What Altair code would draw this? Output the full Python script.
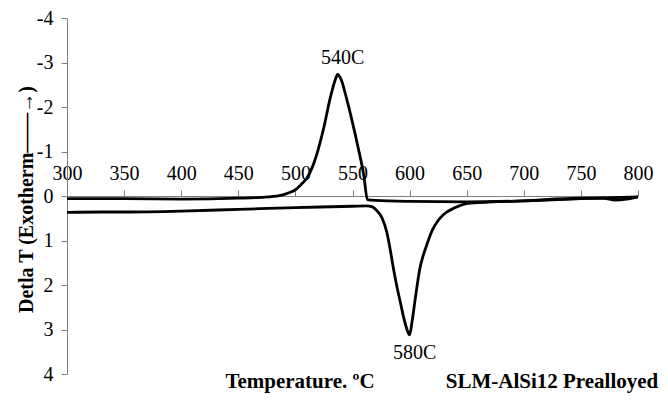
import altair as alt
import pandas as pd

# Series A: heating curve with exothermic peak (~540C)
temps_a = [300, 350, 400, 450, 470, 486, 495, 500, 505, 510, 515, 520, 525, 530, 535, 537,
           540, 545, 550, 555, 560, 563, 570, 600, 650, 700, 750, 800]
vals_a = [0.06, 0.06, 0.07, 0.05, 0.03, -0.01, -0.08, -0.14, -0.26, -0.40, -0.66, -1.05, -1.55,
          -2.15, -2.62, -2.73, -2.62, -2.17, -1.65, -1.08, -0.45, 0.08, 0.10, 0.12, 0.13,
          0.11, 0.06, 0.02]

# Series B: curve with endothermic valley (~580C)
temps_b = [300, 330, 350, 400, 450, 500, 550, 562, 567, 571, 576, 580, 583, 586, 589, 592, 595,
           598, 600, 602, 605, 609, 612, 615, 620, 625, 630, 640, 650, 660, 700, 750, 770,
           780, 790, 800]
vals_b = [0.37, 0.36, 0.36, 0.34, 0.30, 0.26, 0.23, 0.22, 0.24, 0.32, 0.50, 0.81, 1.20, 1.65,
          2.05, 2.40, 2.75, 3.02, 3.12, 2.85, 2.30, 1.63, 1.33, 1.10, 0.76, 0.55, 0.41, 0.26,
          0.17, 0.15, 0.11, 0.05, 0.05, 0.09, 0.07, 0.02]

x_ticks = [300, 350, 400, 450, 500, 550, 600, 650, 700, 750, 800]
y_ticks = [-4, -3, -2, -1, 0, 1, 2, 3, 4]

peak_labels = ["540C", "580C"]
peak_x = [541.5, 604.5]
peak_y = [-3.1, 3.52]

FONT = "Liberation Serif"

df = pd.concat([
    pd.DataFrame({"T": temps_a, "dT": vals_a, "series": "A"}),
    pd.DataFrame({"T": temps_b, "dT": vals_b, "series": "B"}),
])
ann = pd.DataFrame({"label": peak_labels, "T": peak_x, "dT": peak_y})

x_scale = alt.Scale(domain=[300, 800], nice=False, zero=False)
y_scale = alt.Scale(domain=[-4, 4], reverse=True, nice=False, zero=False)

lines = alt.Chart(df).mark_line(strokeWidth=2.8, interpolate="monotone", color="black").encode(
    x=alt.X("T:Q", scale=x_scale,
            axis=alt.Axis(orient="top", offset=-178, values=x_ticks, grid=False, title=None,
                          labelFont=FONT, labelFontSize=20, labelColor="black",
                          labelPadding=7, tickSize=6, tickColor="#7f7f7f",
                          domainColor="#7f7f7f", labelFlush=False, labelOverlap=False)),
    y=alt.Y("dT:Q", scale=y_scale,
            axis=alt.Axis(values=y_ticks, grid=False, labelExpr="'' + datum.value",
                          labelFont=FONT, labelFontSize=20, labelColor="black",
                          labelPadding=8, tickSize=6, tickColor="#7f7f7f",
                          domainColor="#7f7f7f", labelFlush=False,
                          title="Detla T (Exotherm——→)", titleFont=FONT, titleFontSize=20,
                          titleFontWeight="bold", titleColor="black", titleX=-41, titleY=181,
                          titleBaseline="middle", titleAlign="center", titleAngle=-90)),
    detail="series:N",
)

labels = alt.Chart(ann).mark_text(font=FONT, fontSize=20, color="black").encode(
    x=alt.X("T:Q", scale=x_scale),
    y=alt.Y("dT:Q", scale=y_scale),
    text="label:N",
)

xtitle = alt.Chart(pd.DataFrame({"t": ["Temperature. ºC"]})).mark_text(
    font=FONT, fontSize=21, fontWeight="bold", color="black", baseline="alphabetic"
).encode(x=alt.value(233), y=alt.value(370), text="t:N")

subtitle = alt.Chart(pd.DataFrame({"t": ["SLM-AlSi12 Prealloyed"]})).mark_text(
    font=FONT, fontSize=21, fontWeight="bold", color="black", baseline="alphabetic"
).encode(x=alt.value(485), y=alt.value(370), text="t:N")

chart = alt.layer(lines, labels, xtitle, subtitle).properties(
    width=571, height=356,
    autosize=alt.AutoSizeParams(type="none"),
    padding={"left": 59, "top": 10, "right": 22, "bottom": 21},
).configure_view(stroke=None)

chart.save("out.html", embed_options={"renderer": "svg", "actions": False})
